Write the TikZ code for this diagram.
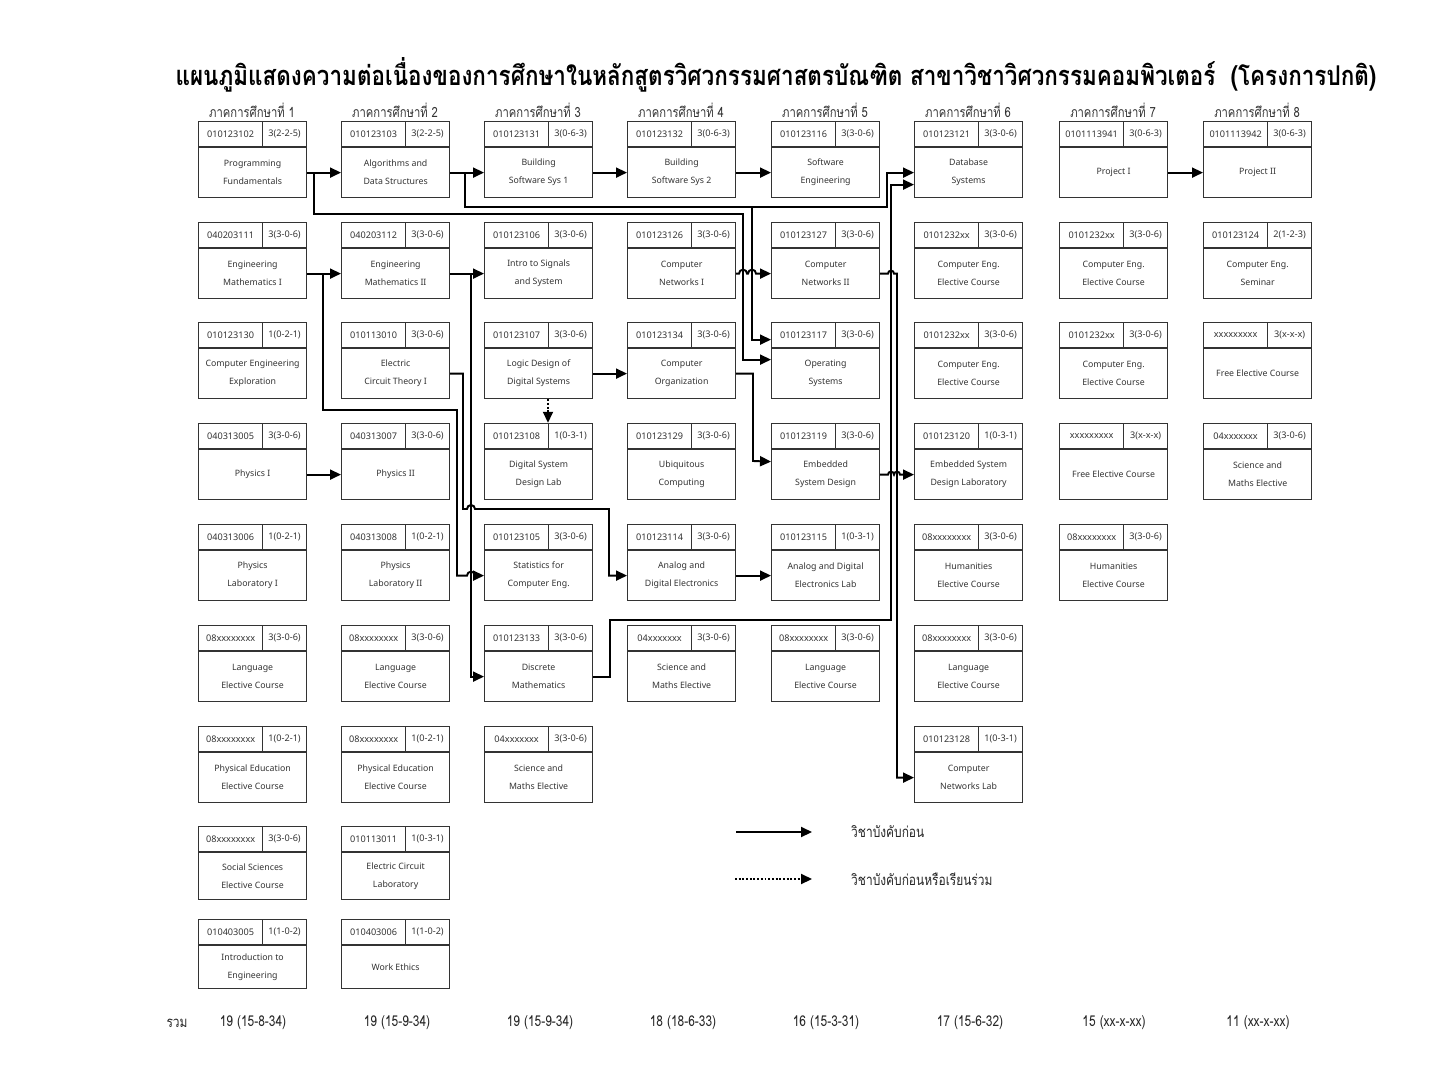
\documentclass[tikz,border=0pt]{standalone}
\usepackage{fontspec}
\setmainfont{Noto Sans}
\newfontfamily\thaifont[Script=Thai]{Loma}
\newfontfamily\thainarrow[Script=Thai,FakeStretch=0.8]{Loma}
\newfontfamily\thaititle[Script=Thai,FakeStretch=0.825]{Loma}
\usetikzlibrary{arrows.meta, calc}

% one course box: [extra body options]{name}{x}{top y}{code}{credits}{title}
\newcommand{\course}[7][]{%
  \node[cbody, #1] (#2) at (#3,#4+25) {#7};
  \node[ccode] (#2-c) at (#2.north west) {#5};
  \node[ccred] (#2-k) at (#2.north east) {#6};
}

\begin{document}
\begin{tikzpicture}[
    x=0.02cm, y=-0.02cm,
    cbody/.style={draw=black!80, line width=0.7pt, anchor=north west, minimum width=2.16cm, minimum height=1cm, inner sep=0pt, align=center, text=black!80, font=\fontsize{5}{10.2}\selectfont},
    ccode/.style={draw=black!80, line width=0.7pt, anchor=south west, minimum width=1.28cm, minimum height=0.5cm, inner sep=0pt, text=black!80, font=\fontsize{5.2}{6}\selectfont},
    ccred/.style={ccode, anchor=south east, minimum width=0.88cm},
    semhead/.style={text=black!80, font=\thainarrow\fontsize{8}{9}\selectfont},
    sumtxt/.style={text=black!85, font=\thainarrow\fontsize{8.5}{9}\selectfont},
    legtxt/.style={anchor=west, text=black!85, font=\thainarrow\fontsize{8.5}{9}\selectfont},
    wire/.style={line width=1.1pt},
    arr/.style={wire, -{Triangle[length=2.2mm, width=2mm]}},
    coarr/.style={arr, densely dotted},
]
\useasboundingbox (0,0) rectangle (1432,1074);

% --- Title ---
\node[font=\thaititle\bfseries\fontsize{15.5}{18}\selectfont] (title) at (776,75) {แผนภูมิแสดงความต่อเนื่องของการศึกษาในหลักสูตรวิศวกรรมศาสตรบัณฑิต สาขาวิชาวิศวกรรมคอมพิวเตอร์~ (โครงการปกติ)};

% --- Semester headings ---
\node[semhead] (s1) at (252,110) {ภาคการศึกษาที่ 1};
\node[semhead] (s2) at (395,110) {ภาคการศึกษาที่ 2};
\node[semhead] (s3) at (538,110) {ภาคการศึกษาที่ 3};
\node[semhead] (s4) at (681,110) {ภาคการศึกษาที่ 4};
\node[semhead] (s5) at (825,110) {ภาคการศึกษาที่ 5};
\node[semhead] (s6) at (968,110) {ภาคการศึกษาที่ 6};
\node[semhead] (s7) at (1113,110) {ภาคการศึกษาที่ 7};
\node[semhead] (s8) at (1257,110) {ภาคการศึกษาที่ 8};

% --- Semester 1 ---
\course{pf}{198}{122}{010123102}{3(2-2-5)}{Programming\\Fundamentals}
\course{em1}{198}{223}{040203111}{3(3-0-6)}{Engineering\\Mathematics I}
\course{cex}{198}{323}{010123130}{1(0-2-1)}{Computer Engineering\\Exploration}
\course{ph1}{198}{424}{040313005}{3(3-0-6)}{Physics I}
\course{phl1}{198}{525}{040313006}{1(0-2-1)}{Physics\\Laboratory I}
\course{lang1}{198}{626}{08xxxxxxxx}{3(3-0-6)}{Language\\Elective Course}
\course{pe1}{198}{727}{08xxxxxxxx}{1(0-2-1)}{Physical Education\\Elective Course}
\course[minimum height=0.94cm]{soc}{198}{827}{08xxxxxxxx}{3(3-0-6)}{Social Sciences\\Elective Course}
\course[minimum height=0.86cm]{ite}{198}{920}{010403005}{1(1-0-2)}{Introduction to\\Engineering}

% --- Semester 2 ---
\course{ads}{341}{122}{010123103}{3(2-2-5)}{Algorithms and\\Data Structures}
\course{em2}{341}{223}{040203112}{3(3-0-6)}{Engineering\\Mathematics II}
\course{ect}{341}{323}{010113010}{3(3-0-6)}{Electric\\Circuit Theory I}
\course{ph2}{341}{424}{040313007}{3(3-0-6)}{Physics II}
\course{phl2}{341}{525}{040313008}{1(0-2-1)}{Physics\\Laboratory II}
\course{lang2}{341}{626}{08xxxxxxxx}{3(3-0-6)}{Language\\Elective Course}
\course{pe2}{341}{727}{08xxxxxxxx}{1(0-2-1)}{Physical Education\\Elective Course}
\course[minimum height=0.94cm]{ecl}{341}{827}{010113011}{1(0-3-1)}{Electric Circuit\\Laboratory}
\course[minimum height=0.86cm]{we}{341}{920}{010403006}{1(1-0-2)}{Work Ethics}

% --- Semester 3 ---
\course{bss1}{484}{122}{010123131}{3(0-6-3)}{Building\\Software Sys 1}
\course{sig}{484}{223}{010123106}{3(3-0-6)}{Intro to Signals\\and System}
\course{ldd}{484}{323}{010123107}{3(3-0-6)}{Logic Design of\\Digital Systems}
\course{dsl}{484}{424}{010123108}{1(0-3-1)}{Digital System\\Design Lab}
\course{stat}{484}{525}{010123105}{3(3-0-6)}{Statistics for\\Computer Eng.}
\course{dm}{484}{626}{010123133}{3(3-0-6)}{Discrete\\Mathematics}
\course{sci3}{484}{727}{04xxxxxxx}{3(3-0-6)}{Science and\\Maths Elective}

% --- Semester 4 ---
\course{bss2}{627}{122}{010123132}{3(0-6-3)}{Building\\Software Sys 2}
\course{cn1}{627}{223}{010123126}{3(3-0-6)}{Computer\\Networks I}
\course{co}{627}{323}{010123134}{3(3-0-6)}{Computer\\Organization}
\course{ubi}{627}{424}{010123129}{3(3-0-6)}{Ubiquitous\\Computing}
\course{ade}{627}{525}{010123114}{3(3-0-6)}{Analog and\\Digital Electronics}
\course{sci4}{627}{626}{04xxxxxxx}{3(3-0-6)}{Science and\\Maths Elective}

% --- Semester 5 ---
\course{se}{771}{122}{010123116}{3(3-0-6)}{Software\\Engineering}
\course{cn2}{771}{223}{010123127}{3(3-0-6)}{Computer\\Networks II}
\course{os}{771}{323}{010123117}{3(3-0-6)}{Operating\\Systems}
\course{esd}{771}{424}{010123119}{3(3-0-6)}{Embedded\\System Design}
\course{adl}{771}{525}{010123115}{1(0-3-1)}{Analog and Digital\\Electronics Lab}
\course{lang5}{771}{626}{08xxxxxxxx}{3(3-0-6)}{Language\\Elective Course}

% --- Semester 6 ---
\course{db}{914}{122}{010123121}{3(3-0-6)}{Database\\Systems}
\course{cee6a}{914}{223}{0101232xx}{3(3-0-6)}{Computer Eng.\\Elective Course}
\course{cee6b}{914}{323}{0101232xx}{3(3-0-6)}{Computer Eng.\\Elective Course}
\course{esl}{914}{424}{010123120}{1(0-3-1)}{Embedded System\\Design Laboratory}
\course{hum6}{914}{525}{08xxxxxxxx}{3(3-0-6)}{Humanities\\Elective Course}
\course{lang6}{914}{626}{08xxxxxxxx}{3(3-0-6)}{Language\\Elective Course}
\course{cnl}{914}{727}{010123128}{1(0-3-1)}{Computer\\Networks Lab}

% --- Semester 7 ---
\course{prj1}{1059}{122}{0101113941}{3(0-6-3)}{Project I}
\course{cee7a}{1059}{223}{0101232xx}{3(3-0-6)}{Computer Eng.\\Elective Course}
\course{cee7b}{1059}{323}{0101232xx}{3(3-0-6)}{Computer Eng.\\Elective Course}
\course{fe7}{1059}{424}{xxxxxxxxx}{3(x-x-x)}{Free Elective Course}
\course{hum7}{1059}{525}{08xxxxxxxx}{3(3-0-6)}{Humanities\\Elective Course}

% --- Semester 8 ---
\course{prj2}{1203}{122}{0101113942}{3(0-6-3)}{Project II}
\course{sem}{1203}{223}{010123124}{2(1-2-3)}{Computer Eng.\\Seminar}
\course{fe8}{1203}{323}{xxxxxxxxx}{3(x-x-x)}{Free Elective Course}
\course{sci8}{1203}{424}{04xxxxxxx}{3(3-0-6)}{Science and\\Maths Elective}

% --- Routing corners ---
\coordinate (pfj) at (314,214);
\coordinate (pfos) at (743,214);
\coordinate (adsj) at (465,207);
\coordinate (adsos) at (752,207);
\coordinate (adsdb) at (887,207);
\coordinate (em1j) at (323,410);
\coordinate (em1s) at (457,410);
\coordinate (em2j) at (471,0);
\coordinate (ectj) at (463,509);
\coordinate (ectk) at (609,509);
\coordinate (coj) at (753,461);
\coordinate (dmj) at (610,620);
\coordinate (dmk) at (891,620);
\coordinate (cn2j) at (897,0);

% --- Prerequisites ---
\draw[arr] (pf.east) -- (ads.west);
\draw[arr] (pf.east -| pfj) -- (pfj) -- (pfos) |- ([yshift=0.28cm]os.west);
\draw[arr] (ads.east) -- (bss1.west);
\draw[arr] (ads.east -| adsj) -- (adsj) -- (adsdb) |- (db.west);
\draw[arr] (adsos) |- ([yshift=0.68cm]os.west);
\draw[arr] (bss1.east) -- (bss2.west);
\draw[arr] (bss2.east) -- (se.west);
\draw[arr] (prj1.east) -- (prj2.west);

\draw[arr] (em1.east) -- (em2.west);
\draw[arr] (em1.east -| em1j) -- (em1j) -- (em1s) -- (em1s |- stat.west)
    -- ($(em2j |- stat.west)+(-4,0)$) arc[start angle=180, end angle=360, radius=4] -- (stat.west);
\draw[arr] (em2.east) -- (sig.west);
\draw[arr] (em2.east -| em2j) |- (dm.west);
\draw[arr] (ect.east) -| (ectj)
    -- ($(em2j |- ectj)+(-4,0)$) arc[start angle=180, end angle=360, radius=4] -- (ectk) |- (ade.west);
\draw[arr] (ph1.east) -- (ph2.west);

\draw[arr] (ldd.east) -- (co.west);
\draw[coarr] (ldd.south -| dsl-k.west) -- (dsl-k.north west);
\draw[arr] (co.east) -| (coj) -- ([yshift=0.26cm]esd.west);
\draw[arr] (cn1.east)
    -- ($(pfos |- cn1.east)+(-4,0)$) arc[start angle=180, end angle=360, radius=4]
    -- ($(adsos |- cn1.east)+(-4,0)$) arc[start angle=180, end angle=360, radius=4] -- (cn2.west);
\draw[arr] (dm.east) -| (dmj) -- (dmk) |- ([yshift=-0.24cm]db.west);
\draw[arr] (ade.east) -- (adl.west);

\draw[arr] (cn2.east)
    -- ($(dmk |- cn2.east)+(-3,0)$) arc[start angle=180, end angle=360, radius=3]
    -- (cn2.east -| cn2j) |- (cnl.west);
\draw[arr] (esd.east)
    -- ($(dmk |- esd.east)+(-3,0)$) arc[start angle=180, end angle=360, radius=3]
    -- ($(cn2j |- esd.east)+(-3,0)$) arc[start angle=180, end angle=360, radius=3] -- (esl.west);

% --- Legend ---
\node[legtxt] (lgt1) at (845,832) {วิชาบังคับก่อน};
\node[legtxt] (lgt2) at (845,879) {วิชาบังคับก่อนหรือเรียนร่วม};
\coordinate (lg1) at (736,832);
\coordinate (lg2) at (735,879);
\draw[arr] (lg1) -- ([xshift=-0.66cm]lgt1.west);
\draw[coarr] (lg2) -- ([xshift=-0.66cm]lgt2.west);

% --- Credit totals ---
\node[sumtxt] (sum0) at (177,1023) {รวม};
\node[sumtxt] (sum1) at (253,1023) {19 (15-8-34)};
\node[sumtxt] (sum2) at (397,1023) {19 (15-9-34)};
\node[sumtxt] (sum3) at (540,1023) {19 (15-9-34)};
\node[sumtxt] (sum4) at (683,1023) {18 (18-6-33)};
\node[sumtxt] (sum5) at (826,1023) {16 (15-3-31)};
\node[sumtxt] (sum6) at (970,1023) {17 (15-6-32)};
\node[sumtxt] (sum7) at (1114,1023) {15 (xx-x-xx)};
\node[sumtxt] (sum8) at (1258,1023) {11 (xx-x-xx)};

\end{tikzpicture}
\end{document}
